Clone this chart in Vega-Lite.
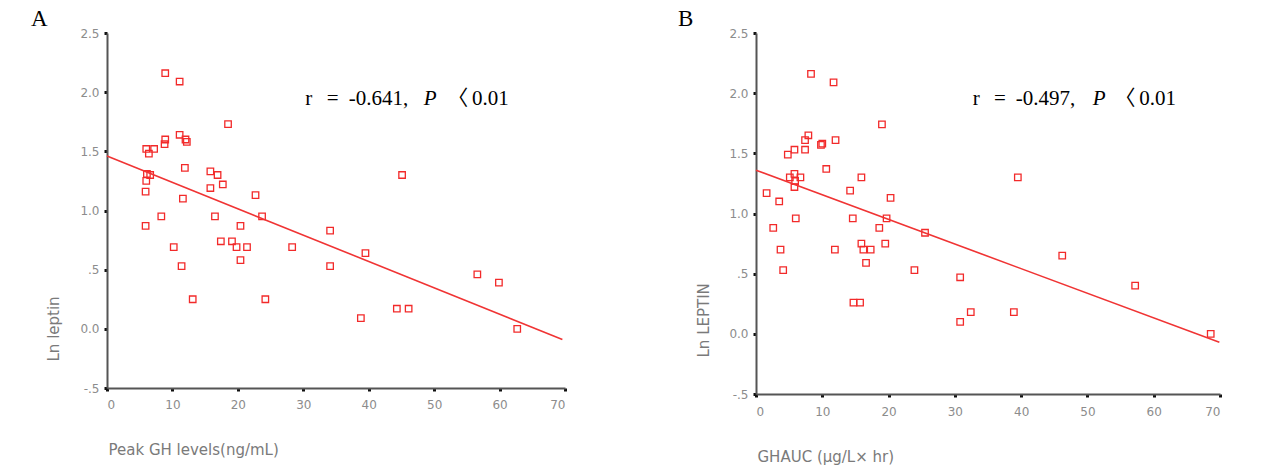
{
  "$schema": "https://vega.github.io/schema/vega-lite/v6.json",
  "background": "white",
  "padding": {"left": 31, "top": 8, "right": 5, "bottom": 5},
  "spacing": 111,
  "config": {
    "view": {"stroke": null},
    "axis": {
      "grid": false,
      "domainColor": "#555555",
      "domainWidth": 2,
      "tickColor": "#111111",
      "tickSize": 3,
      "tickWidth": 3,
      "labelColor": "#8c8c8c",
      "labelFont": "DejaVu Sans",
      "labelFontSize": 12,
      "titleColor": "#7a7a7a",
      "titleFont": "DejaVu Sans",
      "titleFontSize": 15,
      "titleFontWeight": "normal"
    },
    "title": {"font": "Liberation Serif", "fontSize": 23, "fontWeight": "normal", "anchor": "start", "frame": "bounds", "color": "#000000"}
  },
  "datasets": {
    "ptsA": [
      {"peak_gh": 8.9, "ln_leptin": 2.16}, {"peak_gh": 11.1, "ln_leptin": 2.09}, {"peak_gh": 18.5, "ln_leptin": 1.73},
      {"peak_gh": 11.1, "ln_leptin": 1.64}, {"peak_gh": 8.9, "ln_leptin": 1.6}, {"peak_gh": 8.8, "ln_leptin": 1.56},
      {"peak_gh": 12.0, "ln_leptin": 1.6}, {"peak_gh": 12.2, "ln_leptin": 1.58}, {"peak_gh": 6.0, "ln_leptin": 1.52},
      {"peak_gh": 7.2, "ln_leptin": 1.52}, {"peak_gh": 6.4, "ln_leptin": 1.48}, {"peak_gh": 11.9, "ln_leptin": 1.36},
      {"peak_gh": 6.1, "ln_leptin": 1.31}, {"peak_gh": 6.6, "ln_leptin": 1.3}, {"peak_gh": 6.0, "ln_leptin": 1.25},
      {"peak_gh": 15.8, "ln_leptin": 1.33}, {"peak_gh": 16.9, "ln_leptin": 1.3}, {"peak_gh": 17.7, "ln_leptin": 1.22},
      {"peak_gh": 15.8, "ln_leptin": 1.19}, {"peak_gh": 5.9, "ln_leptin": 1.16}, {"peak_gh": 11.6, "ln_leptin": 1.1},
      {"peak_gh": 22.7, "ln_leptin": 1.13}, {"peak_gh": 8.3, "ln_leptin": 0.95}, {"peak_gh": 16.5, "ln_leptin": 0.95},
      {"peak_gh": 23.7, "ln_leptin": 0.95}, {"peak_gh": 5.9, "ln_leptin": 0.87}, {"peak_gh": 20.4, "ln_leptin": 0.87},
      {"peak_gh": 34.1, "ln_leptin": 0.83}, {"peak_gh": 17.4, "ln_leptin": 0.74}, {"peak_gh": 19.1, "ln_leptin": 0.74},
      {"peak_gh": 10.2, "ln_leptin": 0.69}, {"peak_gh": 19.8, "ln_leptin": 0.69}, {"peak_gh": 21.4, "ln_leptin": 0.69},
      {"peak_gh": 28.3, "ln_leptin": 0.69}, {"peak_gh": 20.4, "ln_leptin": 0.58}, {"peak_gh": 11.4, "ln_leptin": 0.53},
      {"peak_gh": 34.1, "ln_leptin": 0.53}, {"peak_gh": 13.1, "ln_leptin": 0.25}, {"peak_gh": 24.2, "ln_leptin": 0.25},
      {"peak_gh": 45.1, "ln_leptin": 1.3}, {"peak_gh": 39.5, "ln_leptin": 0.64}, {"peak_gh": 56.6, "ln_leptin": 0.46},
      {"peak_gh": 59.9, "ln_leptin": 0.39}, {"peak_gh": 44.3, "ln_leptin": 0.17}, {"peak_gh": 46.1, "ln_leptin": 0.17},
      {"peak_gh": 38.8, "ln_leptin": 0.09}, {"peak_gh": 62.7, "ln_leptin": 0.0}
    ],
    "fitA": [
      {"peak_gh": 0, "ln_leptin": 1.46},
      {"peak_gh": 69.6, "ln_leptin": -0.09}
    ],
    "noteA": [
      {"label": "r", "x": 30.3, "y": 1.888},
      {"label": "=", "x": 33.6, "y": 1.888},
      {"label": "-0.641,", "x": 36.95, "y": 1.888},
      {"label": "P", "x": 48.4, "y": 1.888},
      {"label": "〈", "x": 52.0, "y": 1.888},
      {"label": "0.01", "x": 55.8, "y": 1.888}
    ],
    "ptsB": [
      {"ghauc": 8.3, "ln_leptin": 2.16}, {"ghauc": 11.7, "ln_leptin": 2.09}, {"ghauc": 19.0, "ln_leptin": 1.74},
      {"ghauc": 7.9, "ln_leptin": 1.65}, {"ghauc": 7.4, "ln_leptin": 1.61}, {"ghauc": 12.0, "ln_leptin": 1.61},
      {"ghauc": 10.0, "ln_leptin": 1.58}, {"ghauc": 9.8, "ln_leptin": 1.57}, {"ghauc": 5.8, "ln_leptin": 1.53},
      {"ghauc": 7.4, "ln_leptin": 1.53}, {"ghauc": 4.8, "ln_leptin": 1.49}, {"ghauc": 10.6, "ln_leptin": 1.37},
      {"ghauc": 5.8, "ln_leptin": 1.33}, {"ghauc": 5.1, "ln_leptin": 1.3}, {"ghauc": 6.7, "ln_leptin": 1.3},
      {"ghauc": 5.9, "ln_leptin": 1.27}, {"ghauc": 5.8, "ln_leptin": 1.22}, {"ghauc": 15.9, "ln_leptin": 1.3},
      {"ghauc": 1.6, "ln_leptin": 1.17}, {"ghauc": 14.2, "ln_leptin": 1.19}, {"ghauc": 3.5, "ln_leptin": 1.1},
      {"ghauc": 20.3, "ln_leptin": 1.13}, {"ghauc": 6.0, "ln_leptin": 0.96}, {"ghauc": 14.6, "ln_leptin": 0.96},
      {"ghauc": 19.7, "ln_leptin": 0.96}, {"ghauc": 2.6, "ln_leptin": 0.88}, {"ghauc": 18.6, "ln_leptin": 0.88},
      {"ghauc": 25.5, "ln_leptin": 0.84}, {"ghauc": 15.9, "ln_leptin": 0.75}, {"ghauc": 19.5, "ln_leptin": 0.75},
      {"ghauc": 3.7, "ln_leptin": 0.7}, {"ghauc": 11.9, "ln_leptin": 0.7}, {"ghauc": 16.2, "ln_leptin": 0.7},
      {"ghauc": 17.3, "ln_leptin": 0.7}, {"ghauc": 16.6, "ln_leptin": 0.59}, {"ghauc": 4.1, "ln_leptin": 0.53},
      {"ghauc": 23.9, "ln_leptin": 0.53}, {"ghauc": 30.8, "ln_leptin": 0.47}, {"ghauc": 14.7, "ln_leptin": 0.26},
      {"ghauc": 15.7, "ln_leptin": 0.26}, {"ghauc": 32.4, "ln_leptin": 0.18}, {"ghauc": 30.8, "ln_leptin": 0.1},
      {"ghauc": 39.5, "ln_leptin": 1.3}, {"ghauc": 46.2, "ln_leptin": 0.65}, {"ghauc": 57.2, "ln_leptin": 0.4},
      {"ghauc": 38.9, "ln_leptin": 0.18}, {"ghauc": 68.6, "ln_leptin": 0.0}
    ],
    "fitB": [
      {"ghauc": 0, "ln_leptin": 1.36},
      {"ghauc": 69.9, "ln_leptin": -0.07}
    ],
    "noteB": [
      {"label": "r", "x": 32.7, "y": 1.898},
      {"label": "=", "x": 35.9, "y": 1.898},
      {"label": "-0.497,", "x": 39.2, "y": 1.898},
      {"label": "P", "x": 50.8, "y": 1.898},
      {"label": "〈", "x": 54.1, "y": 1.898},
      {"label": "0.01", "x": 57.8, "y": 1.898}
    ]
  },
  "hconcat": [
    {
      "title": {"text": "A", "dx": -15, "offset": -4},
      "width": 458,
      "height": 355,
      "layer": [
        {
          "data": {"name": "ptsA"},
          "mark": {"type": "point", "shape": "square", "filled": false, "size": 42, "strokeWidth": 1.3, "color": "#f22a2a", "opacity": 1},
          "encoding": {
            "x": {"field": "peak_gh", "type": "quantitative",
                  "scale": {"domain": [0, 70], "nice": false, "zero": false},
                  "axis": {"values": [0, 10, 20, 30, 40, 50, 60, 70], "labelPadding": 8, "title": "Peak GH levels(ng/mL)",
                           "titleAnchor": "start", "titleAlign": "left", "titleBaseline": "alphabetic", "titleX": 1, "titleY": 66}},
            "y": {"field": "ln_leptin", "type": "quantitative",
                  "scale": {"domain": [-0.5, 2.5], "nice": false, "zero": false},
                  "axis": {"values": [-0.5, 0, 0.5, 1, 1.5, 2, 2.5], "labelPadding": 5,
                           "labelExpr": "datum.value == 0.5 ? '.5' : (datum.value == -0.5 ? '-.5' : format(datum.value, '.1f'))",
                           "title": "Ln leptin", "titleAngle": -90, "titleAlign": "left", "titleBaseline": "alphabetic",
                           "titleX": -49, "titleY": 328}}
          }
        },
        {
          "data": {"name": "fitA"},
          "mark": {"type": "line", "color": "#f03434", "strokeWidth": 1.6},
          "encoding": {
            "x": {"field": "peak_gh", "type": "quantitative"},
            "y": {"field": "ln_leptin", "type": "quantitative"}
          }
        },
        {
          "data": {"name": "noteA"},
          "transform": [{"filter": "datum.label != 'P'"}],
          "mark": {"type": "text", "align": "left", "baseline": "alphabetic", "font": "Liberation Serif, Noto Sans CJK KR", "fontSize": 21, "color": "#000000"},
          "encoding": {
            "x": {"field": "x", "type": "quantitative"},
            "y": {"field": "y", "type": "quantitative"},
            "text": {"field": "label"}
          }
        },
        {
          "data": {"name": "noteA"},
          "transform": [{"filter": "datum.label == 'P'"}],
          "mark": {"type": "text", "align": "left", "baseline": "alphabetic", "font": "Liberation Serif", "fontStyle": "italic", "fontSize": 21, "color": "#000000"},
          "encoding": {
            "x": {"field": "x", "type": "quantitative"},
            "y": {"field": "y", "type": "quantitative"},
            "text": {"field": "label"}
          }
        }
      ]
    },
    {
      "title": {"text": "B", "dx": -18, "offset": -4},
      "width": 464,
      "height": 361,
      "layer": [
        {
          "data": {"name": "ptsB"},
          "mark": {"type": "point", "shape": "square", "filled": false, "size": 42, "strokeWidth": 1.3, "color": "#f22a2a", "opacity": 1},
          "encoding": {
            "x": {"field": "ghauc", "type": "quantitative",
                  "scale": {"domain": [0, 70], "nice": false, "zero": false},
                  "axis": {"values": [0, 10, 20, 30, 40, 50, 60, 70], "labelPadding": 9, "title": "GHAUC (μg/L× hr)",
                           "titleAnchor": "start", "titleAlign": "left", "titleBaseline": "alphabetic", "titleX": 1, "titleY": 67}},
            "y": {"field": "ln_leptin", "type": "quantitative",
                  "scale": {"domain": [-0.5, 2.5], "nice": false, "zero": false},
                  "axis": {"values": [-0.5, 0, 0.5, 1, 1.5, 2, 2.5], "labelPadding": 5,
                           "labelExpr": "datum.value == 0.5 ? '.5' : (datum.value == -0.5 ? '-.5' : format(datum.value, '.1f'))",
                           "title": "Ln LEPTIN", "titleAngle": -90, "titleAlign": "left", "titleBaseline": "alphabetic",
                           "titleX": -48, "titleY": 324}}
          }
        },
        {
          "data": {"name": "fitB"},
          "mark": {"type": "line", "color": "#f03434", "strokeWidth": 1.6},
          "encoding": {
            "x": {"field": "ghauc", "type": "quantitative"},
            "y": {"field": "ln_leptin", "type": "quantitative"}
          }
        },
        {
          "data": {"name": "noteB"},
          "transform": [{"filter": "datum.label != 'P'"}],
          "mark": {"type": "text", "align": "left", "baseline": "alphabetic", "font": "Liberation Serif, Noto Sans CJK KR", "fontSize": 21, "color": "#000000"},
          "encoding": {
            "x": {"field": "x", "type": "quantitative"},
            "y": {"field": "y", "type": "quantitative"},
            "text": {"field": "label"}
          }
        },
        {
          "data": {"name": "noteB"},
          "transform": [{"filter": "datum.label == 'P'"}],
          "mark": {"type": "text", "align": "left", "baseline": "alphabetic", "font": "Liberation Serif", "fontStyle": "italic", "fontSize": 21, "color": "#000000"},
          "encoding": {
            "x": {"field": "x", "type": "quantitative"},
            "y": {"field": "y", "type": "quantitative"},
            "text": {"field": "label"}
          }
        }
      ]
    }
  ]
}
